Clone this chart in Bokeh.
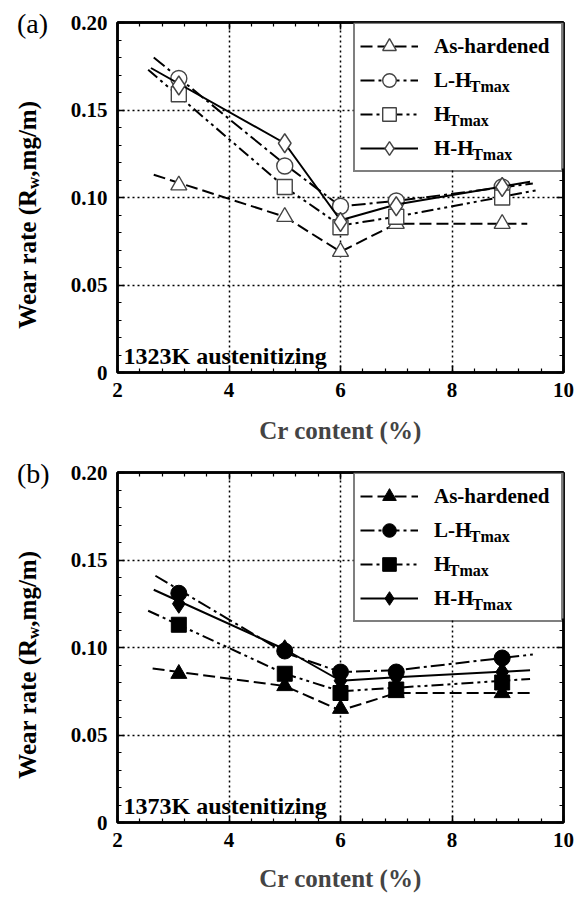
import numpy as np
from bokeh.plotting import figure
from bokeh.layouts import column, row
from bokeh.models import (Range1d, LinearAxis, FixedTicker, CustomJSTickFormatter,
                          Legend, LegendItem, Label, BoxAnnotation, Div)
from bokeh.embed import file_html
from bokeh.resources import INLINE

# ---------------- data ----------------
cr = [3.1, 5.0, 6.0, 7.0, 8.9]
series_names = ["As-hardened", "L-H", "H", "H-H"]
series_sub = ["", "Tmax", "Tmax", "Tmax"]

# panel (a) 1323K
a_as = [0.107, 0.089, 0.069, 0.085, 0.085]
a_lh = [0.168, 0.118, 0.095, 0.098, 0.106]
a_h = [0.159, 0.106, 0.083, 0.089, 0.100]
a_hh = [0.164, 0.131, 0.086, 0.095, 0.106]
# trend lines (a)
a_as_lx = [2.65, 5.0, 6.0, 7.0, 9.35]
a_as_ly = [0.113, 0.089, 0.069, 0.085, 0.085]
a_lh_lx = [2.65, 5.0, 6.0, 7.0, 9.45]
a_lh_ly = [0.180, 0.119, 0.095, 0.098, 0.108]
a_h_lx = [2.55, 5.0, 6.0, 7.0, 9.5]
a_h_ly = [0.173, 0.106, 0.084, 0.089, 0.104]
a_hh_lx = [2.6, 5.0, 6.0, 7.0, 9.4]
a_hh_ly = [0.174, 0.131, 0.087, 0.096, 0.109]

# panel (b) 1373K
b_as = [0.085, 0.078, 0.065, 0.074, 0.074]
b_lh = [0.131, 0.098, 0.086, 0.086, 0.094]
b_h = [0.113, 0.085, 0.074, 0.076, 0.080]
b_hh = [0.125, 0.099, 0.081, 0.083, 0.086]
# trend lines (b)
b_as_lx = [2.63, 5.0, 6.0, 7.0, 9.4]
b_as_ly = [0.088, 0.078, 0.064, 0.074, 0.074]
b_lh_lx = [2.68, 5.0, 6.0, 7.0, 9.45]
b_lh_ly = [0.141, 0.097, 0.086, 0.087, 0.096]
b_h_lx = [2.55, 5.0, 6.0, 7.0, 9.4]
b_h_ly = [0.121, 0.085, 0.075, 0.077, 0.082]
b_hh_lx = [2.65, 5.0, 6.0, 7.0, 9.4]
b_hh_ly = [0.133, 0.099, 0.081, 0.083, 0.087]

xticks = [2, 4, 6, 8, 10]
yticks = [0, 0.05, 0.1, 0.15, 0.2]
ytick_labels = ["0", "0.05", "0.10", "0.15", "0.20"]
x_title = "Cr content (%)"
y_title = ["Wear rate (R", "w", ",mg/m)"]
panel_tags = ["(a)", "(b)"]
panel_notes = ["1323K austenitizing", "1373K austenitizing"]

# ---------------- style ----------------
FONT = "Liberation Serif"
dashes = ["12 5", "14 4 3 4", "12 4 3 4 3 4", "solid"]
markers = ["triangle", "circle", "square", "diamond"]
msizes = [16, 16, 15, 19]

# Times-Bold widths (per 1000 em)
TB = {" ": 250, "(": 333, ")": 333, ",": 250, "-": 333, "/": 278, "%": 1000,
      "A": 722, "C": 722, "H": 778, "L": 667, "R": 722, "T": 667, "W": 1000,
      "a": 500, "c": 444, "e": 444, "g": 500, "m": 833, "n": 556, "o": 500,
      "r": 444, "t": 333, "w": 722, "x": 500}


def tw(s, size):
    return sum(TB.get(c, 500) for c in s) * size / 1000.0


def label(**kw):
    # canvas units: figure-relative, top-left origin
    return Label(x_units="canvas", y_units="canvas", **kw)


LW = 67          # width of the side strip holding the y title
FW, FH = 446, 350
FL = 50          # left border of main figure (tick labels)


def make_side(tag, top_border, height):
    start = top_border + FH - 43          # where the vertical title begins (from top)
    html = (
        f'<div style="position:relative;width:{LW}px;height:{height}px;'
        f"font-family:'{FONT}',serif;color:black;\">"
        f'<div style="position:absolute;left:17px;top:{top_border + 2 - 16}px;'
        f'font-size:28px;line-height:32px;white-space:nowrap;">{tag}</div>'
        f'<div style="position:absolute;left:13px;bottom:{height - start}px;'
        f'font-size:25px;font-weight:bold;line-height:30px;white-space:nowrap;'
        f'writing-mode:vertical-rl;transform:rotate(180deg);">'
        f'{y_title[0]}<sub style="font-size:17px;line-height:0;">{y_title[1]}</sub>{y_title[2]}</div>'
        f'</div>'
    )
    return Div(text=html, width=LW, height=height, margin=0)


def make_panel(note, vals, lines, filled, top_border, bottom_border, title_standoff):
    p = figure(frame_width=FW, frame_height=FH,
               x_range=Range1d(2, 10), y_range=Range1d(0, 0.2),
               output_backend="svg", toolbar_location=None,
               min_border_left=FL, min_border_right=13,
               min_border_top=top_border, min_border_bottom=bottom_border,
               background_fill_color="white", border_fill_color="white")
    p.outline_line_color = "black"
    p.outline_line_width = 2.5

    xminor = list(np.round(np.arange(2, 10.001, 0.4), 3))
    yminor = list(np.round(np.arange(0, 0.2001, 0.01), 3))

    xa = p.xaxis[0]
    xa.ticker = FixedTicker(ticks=xticks, minor_ticks=xminor)
    ya = p.yaxis[0]
    ya.ticker = FixedTicker(ticks=yticks, minor_ticks=yminor)
    ya.major_label_overrides = {t: l for t, l in zip(yticks, ytick_labels)}
    for ax in (xa, ya):
        ax.axis_line_width = 2.5
        ax.axis_line_color = "black"
        ax.major_tick_in = 7
        ax.major_tick_out = 0
        ax.minor_tick_in = 4
        ax.minor_tick_out = 0
        ax.major_tick_line_width = 1.5
        ax.minor_tick_line_width = 1.2
        ax.major_label_text_font = FONT
        ax.major_label_text_font_style = "bold"
        ax.major_label_text_font_size = "21px"
        ax.major_label_text_color = "black"
        ax.major_label_standoff = 10
    xa.axis_label = x_title
    xa.axis_label_text_font = FONT
    xa.axis_label_text_font_style = "bold"
    xa.axis_label_text_font_size = "25px"
    xa.axis_label_standoff = title_standoff

    # right / top frame ticks
    for side, tks, mn in (("right", yticks, yminor), ("above", xticks, xminor)):
        ax = LinearAxis(ticker=FixedTicker(ticks=tks, minor_ticks=mn),
                        formatter=CustomJSTickFormatter(code="return ''"),
                        major_label_standoff=0, major_label_text_font_size="1px",
                        major_tick_in=7, major_tick_out=0, minor_tick_in=4,
                        minor_tick_out=0, axis_line_width=2.5,
                        major_tick_line_width=1.5, minor_tick_line_width=1.2)
        p.add_layout(ax, side)

    p.xgrid.ticker = FixedTicker(ticks=xticks)
    p.ygrid.ticker = FixedTicker(ticks=yticks)
    for g in (p.xgrid[0], p.ygrid[0]):
        g.grid_line_color = "black"
        g.grid_line_dash = "2 3"
        g.grid_line_width = 1.5

    items = []
    for i, name in enumerate(series_names):
        lx, ly = lines[i]
        lr = p.line(lx, ly, line_color="black", line_width=2, line_dash=dashes[i])
        sr = p.scatter(cr, vals[i], marker=markers[i], size=msizes[i],
                       fill_color="black" if filled else "white",
                       line_color="black" if filled else "#444",
                       line_width=1.0 if filled else 1.4)
        items.append(LegendItem(label=name, renderers=[lr, sr]))

    pad, gh, sp, gw, stand, lw = 5, 34, 0, 58, 16, 122
    box_w = 2 * pad + gw + stand + lw + 4
    box_h = 2 * pad + 4 * gh + 3 * sp
    box_left = FL + FW - box_w
    # white backing for the legend (legend itself transparent so subscripts show)
    p.add_layout(BoxAnnotation(left=box_left, right=FL + FW, top=top_border,
                               bottom=top_border + box_h,
                               left_units="canvas", right_units="canvas",
                               top_units="canvas", bottom_units="canvas",
                               fill_color="white", fill_alpha=1.0, line_alpha=0))
    leg = Legend(items=items, location="top_right", margin=0, padding=pad,
                 spacing=sp, glyph_width=gw, glyph_height=gh, label_standoff=stand,
                 label_width=lw, label_height=20,
                 label_text_font=FONT, label_text_font_style="bold",
                 label_text_font_size="21px", label_text_color="black",
                 border_line_color="black", border_line_width=2,
                 background_fill_alpha=0.0)
    p.add_layout(leg)

    text_x = box_left + pad + gw + stand
    for i, (name, sub) in enumerate(zip(series_names, series_sub)):
        if not sub:
            continue
        cy = top_border + pad + gh / 2 + i * (gh + sp)
        lab = label(x=text_x + tw(name, 21), y=cy + 8, text=sub,
                    text_font=FONT, text_font_style="bold",
                    text_font_size="16px", text_color="black",
                    text_align="left", text_baseline="middle")
        lab.level = "overlay"
        p.add_layout(lab)

    lab = label(x=FL + 6, y=top_border + FH - 17, text=note, text_font=FONT,
                text_font_style="bold", text_font_size="24px", text_color="black",
                text_align="left", text_baseline="middle")
    lab.level = "overlay"
    p.add_layout(lab)
    return p


p1 = make_panel(panel_notes[0], [a_as, a_lh, a_h, a_hh],
                [(a_as_lx, a_as_ly), (a_lh_lx, a_lh_ly), (a_h_lx, a_h_ly), (a_hh_lx, a_hh_ly)],
                False, 22, 77, 17)
p2 = make_panel(panel_notes[1], [b_as, b_lh, b_h, b_hh],
                [(b_as_lx, b_as_ly), (b_lh_lx, b_lh_ly), (b_h_lx, b_h_ly), (b_hh_lx, b_hh_ly)],
                True, 23, 75, 15)
s1 = make_side(panel_tags[0], 22, 449)
s2 = make_side(panel_tags[1], 23, 448)

layout = column(row(s1, p1, spacing=0), row(s2, p2, spacing=0), spacing=0)
open("out.html", "w").write(file_html(layout, INLINE))
